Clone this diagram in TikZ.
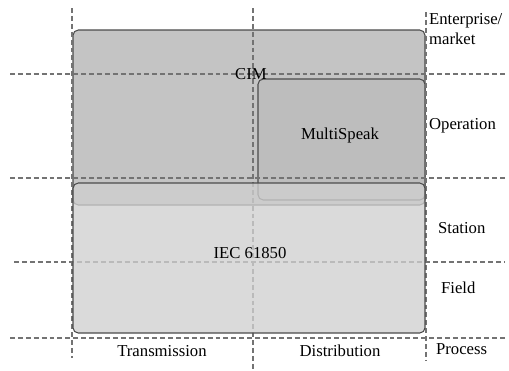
\documentclass[tikz,border=0pt]{standalone}
\usepackage{fontspec}
\setmainfont{Liberation Serif}
\usepackage{tikz}

\tikzset{
  layer/.style={draw=black!70, rounded corners=3pt, line width=0.6pt},
  grid line/.style={draw=black!55, dashed, dash pattern=on 2.8pt off 1.7pt, line width=0.7pt},
  lbl/.style={font=\fontsize{9.5}{11}\selectfont, inner sep=1pt}
}

\begin{document}
\begin{tikzpicture}[x=0.02cm, y=-0.02cm]

\useasboundingbox (0,0) rectangle (509,370);

% CIM block (enterprise and operation)
\draw[layer, fill=black!23] (73,30) rectangle (425,205);

% MultiSpeak block inside CIM
\draw[layer, fill=black!26] (258,79) rectangle (425,200);

% Vertical dashed lines
\draw[grid line] (72,8) -- (72,358);
\draw[grid line] (253,8) -- (253,370);
\draw[grid line] (426,12) -- (426,360);

% Horizontal dashed lines
\draw[grid line] (10,74) -- (505,74);
\draw[grid line] (10,178) -- (505,178);
\draw[grid line] (14,262) -- (505,262);
\draw[grid line] (10,338) -- (505,338);

% IEC 61850 block (station and field), laid over the others
\draw[layer, fill=black!19, fill opacity=0.78] (73,183) rectangle (425,333);

% Block labels
\node[lbl] (cim) at (251,74) {CIM};
\node[lbl] (multispeak) at (340,135) {MultiSpeak};
\node[lbl] (iec) at (250,253) {IEC 61850};

% Level labels on the right
\node[lbl, anchor=west, align=left] (enterprise) at (427,29) {Enterprise/\\market};
\node[lbl, anchor=west] (operation) at (427,126) {Operation};
\node[lbl, anchor=west] (station) at (436,228) {Station};
\node[lbl, anchor=west] (field) at (439,288) {Field};
\node[lbl, anchor=west] (process) at (434,349) {Process};

% Domain labels at the bottom
\node[lbl] (transmission) at (162,351) {Transmission};
\node[lbl] (distribution) at (340,351) {Distribution};

\end{tikzpicture}
\end{document}
